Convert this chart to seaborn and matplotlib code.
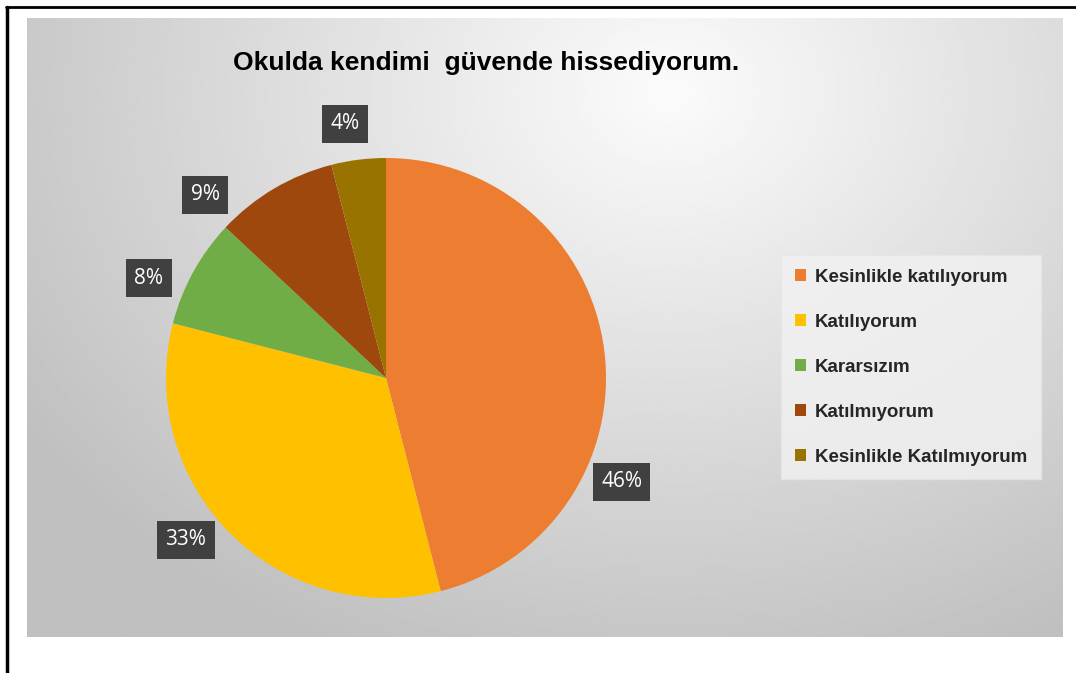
import numpy as np
import seaborn as sns
import matplotlib
matplotlib.use("Agg")
import matplotlib.pyplot as plt
from matplotlib.patches import Patch

# data
categories = ["Kesinlikle katılıyorum", "Katılıyorum", "Kararsızım",
              "Katılmıyorum", "Kesinlikle Katılmıyorum"]
shares = [46, 33, 8, 9, 4]
title = "Okulda kendimi  güvende hissediyorum."

colors = ["#ED7D31", "#FFC000", "#70AD47", "#9E480E", "#997300"]
# small angular nudges (deg) for the outside-end labels, like Excel does
label_nudge = [-31, -6, 6, 14, 2]

sns.set_theme(style="white")
plt.rcParams["font.family"] = ["Liberation Sans", "DejaVu Sans"]

W, H = 1076, 673
fig = plt.figure(figsize=(W / 100, H / 100), dpi=100)
fig.patch.set_facecolor("white")

# outer frame lines (top and left)
fig.add_artist(plt.Line2D([6 / W, 1], [1 - 7 / H, 1 - 7 / H], color="black", lw=2))
fig.add_artist(plt.Line2D([7 / W, 7 / W], [0, 1 - 7 / H], color="black", lw=2.5))

# chart area with radial gray gradient
bx0, by0, bx1, by1 = 27, 18, 1063, 637
bg = fig.add_axes([bx0 / W, 1 - by1 / H, (bx1 - bx0) / W, (by1 - by0) / H])
gx, gy = np.meshgrid(np.linspace(0, 1, 400), np.linspace(0, 1, 300))
d = np.sqrt(((gx - 0.62) * 1.0) ** 2 + ((gy - 0.12) * 0.75) ** 2)
d = np.clip(d / 0.75, 0, 1)
shade = 0.985 - 0.235 * d
bg.imshow(shade, cmap="gray", vmin=0, vmax=1, aspect="auto", extent=[0, 1, 1, 0])
bg.set_axis_off()

# pie
cx, cy, r = 386, 378, 220
ax = fig.add_axes([(cx - r) / W, 1 - (cy + r) / H, 2 * r / W, 2 * r / H])
wedges, _ = ax.pie(shares, colors=colors, startangle=90, counterclock=False,
                   radius=1, wedgeprops=dict(linewidth=0))
ax.set_xlim(-1, 1)
ax.set_ylim(-1, 1)
ax.set_aspect("equal")
ax.set_axis_off()

for w, v, nud in zip(wedges, shares, label_nudge):
    ang = np.deg2rad((w.theta1 + w.theta2) / 2 + nud)
    dist = 1.17
    ax.text(dist * np.cos(ang), dist * np.sin(ang), f"{v}%", ha="center", va="center",
            color="white", fontsize=15, family=["Open Sans", "DejaVu Sans"],
            bbox=dict(boxstyle="square,pad=0.4", fc="#404040", ec="none"))

fig.text(486 / W, 1 - 63 / H, title, ha="center", va="center",
         fontsize=19, fontweight="bold", color="black")

handles = [Patch(facecolor=c, edgecolor="none") for c in colors]
leg = fig.legend(handles, categories, loc="upper left",
                 bbox_to_anchor=(772 / W, 1 - 246 / H), frameon=True,
                 prop=dict(weight="bold", size=13.5), labelspacing=1.5,
                 handlelength=0.6, handleheight=0.6, handletextpad=0.5,
                 borderpad=0.7, fancybox=False)
leg.get_frame().set_facecolor("#f2f2f2")
leg.get_frame().set_edgecolor("#e6e6e6")
leg.get_frame().set_alpha(0.8)

fig.savefig("out.png", dpi=100, facecolor="white")
